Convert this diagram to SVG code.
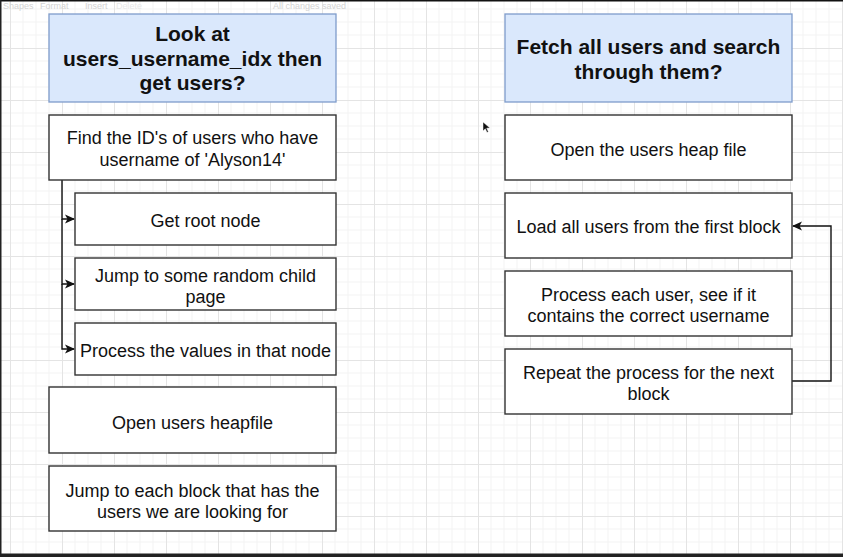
<svg xmlns="http://www.w3.org/2000/svg" width="843" height="557" viewBox="0 0 843 557">
<defs>
<pattern id="grid" patternUnits="userSpaceOnUse" x="10" y="48" width="52" height="52">
<rect width="52" height="52" fill="#ffffff"/>
<path d="M13 0V52M26 0V52M39 0V52M0 13H52M0 26H52M0 39H52" stroke="#f3f3f3" stroke-width="1" fill="none"/>
<path d="M0.5 0V52M0 0.5H52" stroke="#e4e4e4" stroke-width="1" fill="none"/>
</pattern>
<marker id="arr" viewBox="0 0 10 10" refX="9" refY="5" markerWidth="10" markerHeight="10" markerUnits="userSpaceOnUse" orient="auto">
<path d="M0 0.5L10 5L0 9.5L2.5 5Z" fill="#111"/>
</marker>
<style>
.title{fill:#dae8fc;stroke:#7f9ccb;stroke-width:1.3}
.box{fill:#ffffff;stroke:#333333;stroke-width:1.4}
.tt{font-family:"Liberation Sans",Arial,sans-serif;font-weight:bold;font-size:21px;fill:#111;text-anchor:middle}
.bt{font-family:"Liberation Sans",Arial,sans-serif;font-size:18px;fill:#111;text-anchor:middle}
.ui{font-family:"Liberation Sans",Arial,sans-serif;font-size:9px;fill:#d4d4d4}
.edge{fill:none;stroke:#111;stroke-width:1.4}
</style>
</defs>
<rect x="0" y="0" width="843" height="557" fill="url(#grid)"/>
<g id="toolbar">
<text class="ui" x="3" y="9">Shapes</text>
<text class="ui" x="40" y="9">Format</text>
<text class="ui" x="85" y="9">Insert</text>
<text class="ui" x="116" y="9" style="fill:#e8e8e8">Delete</text>
<text class="ui" x="273" y="9">All changes saved</text>
</g>
<g id="frame">
<rect x="0" y="0" width="843" height="1.5" fill="#111"/>
<rect x="0" y="0" width="1.5" height="557" fill="#222"/>
<rect x="0" y="553.5" width="843" height="3.5" fill="#222"/>
</g>
<g id="connectors">
<path class="edge" d="M62 180V219H74" marker-end="url(#arr)"/>
<path class="edge" d="M62 219V284H74" marker-end="url(#arr)"/>
<path class="edge" d="M62 284V349H74" marker-end="url(#arr)"/>
<path class="edge" d="M792 381H831V226H793" marker-end="url(#arr)"/>
</g>
<g id="n1">
<rect class="title" x="49" y="14" width="287" height="88"/>
<text class="tt" x="192.5" y="41">Look at</text>
<text class="tt" x="192.5" y="66">users_username_idx then</text>
<text class="tt" x="192.5" y="90">get users?</text>
</g>
<g id="n2">
<rect class="box" x="49" y="115" width="287" height="65"/>
<text class="bt" x="192.5" y="144">Find the ID's of users who have</text>
<text class="bt" x="192.5" y="165.5">username of 'Alyson14'</text>
</g>
<g id="n3">
<rect class="box" x="75" y="193" width="261" height="52"/>
<text class="bt" x="205.5" y="226.5">Get root node</text>
</g>
<g id="n4">
<rect class="box" x="75" y="258" width="261" height="52"/>
<text class="bt" x="205.5" y="282">Jump to some random child</text>
<text class="bt" x="205.5" y="303">page</text>
</g>
<g id="n5">
<rect class="box" x="75" y="323" width="261" height="52"/>
<text class="bt" x="205.5" y="356.5">Process the values in that node</text>
</g>
<g id="n6">
<rect class="box" x="49" y="387" width="287" height="66"/>
<text class="bt" x="192.5" y="428.5">Open users heapfile</text>
</g>
<g id="n7">
<rect class="box" x="49" y="466" width="287" height="65"/>
<text class="bt" x="192.5" y="497">Jump to each block that has the</text>
<text class="bt" x="192.5" y="517.5">users we are looking for</text>
</g>
<g id="n8">
<rect class="title" x="505" y="14" width="287" height="88"/>
<text class="tt" x="648.5" y="53.5">Fetch all users and search</text>
<text class="tt" x="648.5" y="78.5">through them?</text>
</g>
<g id="n9">
<rect class="box" x="505" y="115" width="287" height="65"/>
<text class="bt" x="648.5" y="155.5">Open the users heap file</text>
</g>
<g id="n10">
<rect class="box" x="505" y="193" width="287" height="65"/>
<text class="bt" x="648.5" y="233">Load all users from the first block</text>
</g>
<g id="n11">
<rect class="box" x="505" y="271" width="287" height="65"/>
<text class="bt" x="648.5" y="300.5">Process each user, see if it</text>
<text class="bt" x="648.5" y="321.5">contains the correct username</text>
</g>
<g id="n12">
<rect class="box" x="505" y="349" width="287" height="65"/>
<text class="bt" x="648.5" y="379">Repeat the process for the next</text>
<text class="bt" x="648.5" y="399.5">block</text>
</g>
<g id="cursor">
<path d="M483 122L483 131L485.3 128.8L487 132.5L488.4 131.8L486.7 128.2L490 128Z" fill="#111" stroke="#fff" stroke-width="0.5"/>
</g>
</svg>
